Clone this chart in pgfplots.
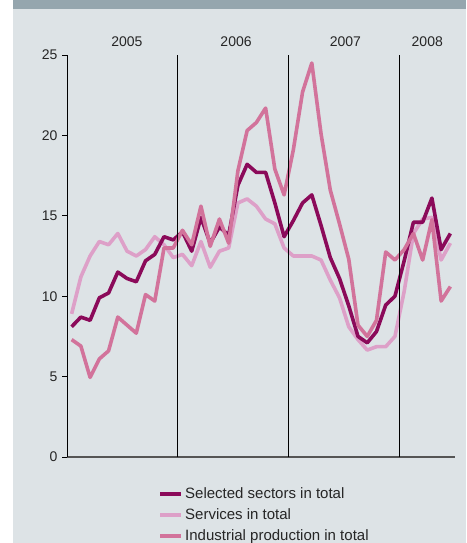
\documentclass[border=0pt]{standalone}
\usepackage{pgfplots}
\pgfplotsset{compat=1.18}
\usepackage{pgfplotstable}
\usepackage{fontspec}
\setmainfont{Liberation Sans}
\definecolor{panel}{HTML}{DDE3E6}
\definecolor{band}{HTML}{95A6AE}
\definecolor{cSel}{HTML}{8B0A5A}
\definecolor{cSer}{HTML}{DDA0C8}
\definecolor{cInd}{HTML}{D2739B}
\definecolor{xaxis}{HTML}{555555}

\pgfplotstableread{
x sel ser ind
0.5 8.1 8.9 7.3
1.5 8.7 11.2 6.9
2.5 8.5 12.5 4.95
3.5 9.9 13.4 6.1
4.5 10.2 13.2 6.6
5.5 11.5 13.9 8.7
6.5 11.1 12.8 8.2
7.5 10.9 12.5 7.7
8.5 12.2 12.9 10.1
9.5 12.6 13.7 9.7
10.5 13.7 13.2 13.0
11.5 13.5 12.4 13.0
12.5 14.0 12.6 14.1
13.5 12.8 11.9 13.2
14.5 14.9 13.4 15.6
15.5 13.3 11.8 13.1
16.5 14.3 12.8 14.8
17.5 13.8 13.0 13.3
18.5 16.9 15.8 17.8
19.5 18.2 16.05 20.3
20.5 17.7 15.6 20.8
21.5 17.7 14.8 21.7
22.5 15.8 14.5 17.9
23.5 13.7 13.0 16.3
24.5 14.7 12.5 19.1
25.5 15.8 12.5 22.7
26.5 16.3 12.5 24.5
27.5 14.4 12.25 20.1
28.5 12.4 11.0 16.6
29.5 11.1 9.9 14.5
30.5 9.4 8.1 12.3
31.5 7.5 7.3 8.2
32.5 7.1 6.65 7.5
33.5 7.8 6.86 8.5
34.5 9.45 6.86 12.75
35.5 10.0 7.5 12.25
36.5 12.2 10.3 12.9
37.5 14.6 13.9 13.9
38.5 14.6 14.8 12.25
39.5 16.1 14.9 14.75
40.5 12.9 12.25 9.7
41.5 13.9 13.3 10.6
}\data

\begin{document}
\begin{tikzpicture}
\fill[white] (0pt,0pt) rectangle (466pt,543pt);
\fill[panel] (13pt,0pt) rectangle (466pt,534pt);
\fill[band] (13pt,534pt) rectangle (466pt,543pt);
\begin{axis}[
  scale only axis,
  width=388pt, height=402pt,
  at={(67pt,86pt)}, anchor=south west,
  xmin=0, xmax=42, ymin=0, ymax=25,
  axis y line*=left, axis x line*=bottom,
  xtick=\empty,
  ytick={0,5,10,15,20,25},
  tick align=outside,
  major tick length=5pt,
  y axis line style={black, line width=0.8pt},
  x axis line style={xaxis, line width=1.5pt},
  ytick style={black, line width=0.8pt},
  yticklabel style={font=\fontsize{14}{16}\selectfont, text=black!85, xshift=-1pt},
  /pgf/number format/assume math mode=true,
  clip=false,
  legend cell align=left,
  legend style={draw=none, fill=none, at={(0.2345,-0.07)}, anchor=north west,
    inner xsep=0pt, inner ysep=0pt, row sep=5pt,
    font=\fontsize{15}{17}\selectfont, text=black!85},
  legend image code/.code={\draw[#1, line width=4pt] (0pt,0pt) -- (21pt,0pt);},
  every axis plot/.append style={line width=3.6pt, line join=round},
]
\addlegendimage{cSel}
\addlegendentry{Selected sectors in total}
\addlegendimage{cSer}
\addlegendentry{Services in total}
\addlegendimage{cInd}
\addlegendentry{Industrial production in total}
\addplot[cSer, forget plot] table[x=x, y=ser] {\data};
\addplot[cSel, forget plot] table[x=x, y=sel] {\data};
\addplot[cInd, forget plot] table[x=x, y=ind] {\data};
\draw[black, line width=0.8pt] (axis cs:12,0) -- (axis cs:12,25);
\draw[black, line width=0.8pt] (axis cs:24,0) -- (axis cs:24,25);
\draw[black, line width=0.8pt] (axis cs:36,0) -- (axis cs:36,25);
\node[font=\fontsize{14}{16}\selectfont, text=black!85, anchor=base] at (axis cs:6.48,25.52) {2005};
\node[font=\fontsize{14}{16}\selectfont, text=black!85, anchor=base] at (axis cs:18.3,25.52) {2006};
\node[font=\fontsize{14}{16}\selectfont, text=black!85, anchor=base] at (axis cs:30.14,25.52) {2007};
\node[font=\fontsize{14}{16}\selectfont, text=black!85, anchor=base] at (axis cs:39.0,25.52) {2008};
\end{axis}
\pgfresetboundingbox
\path[use as bounding box] (0pt,0pt) rectangle (466pt,543pt);
\end{tikzpicture}
\end{document}
